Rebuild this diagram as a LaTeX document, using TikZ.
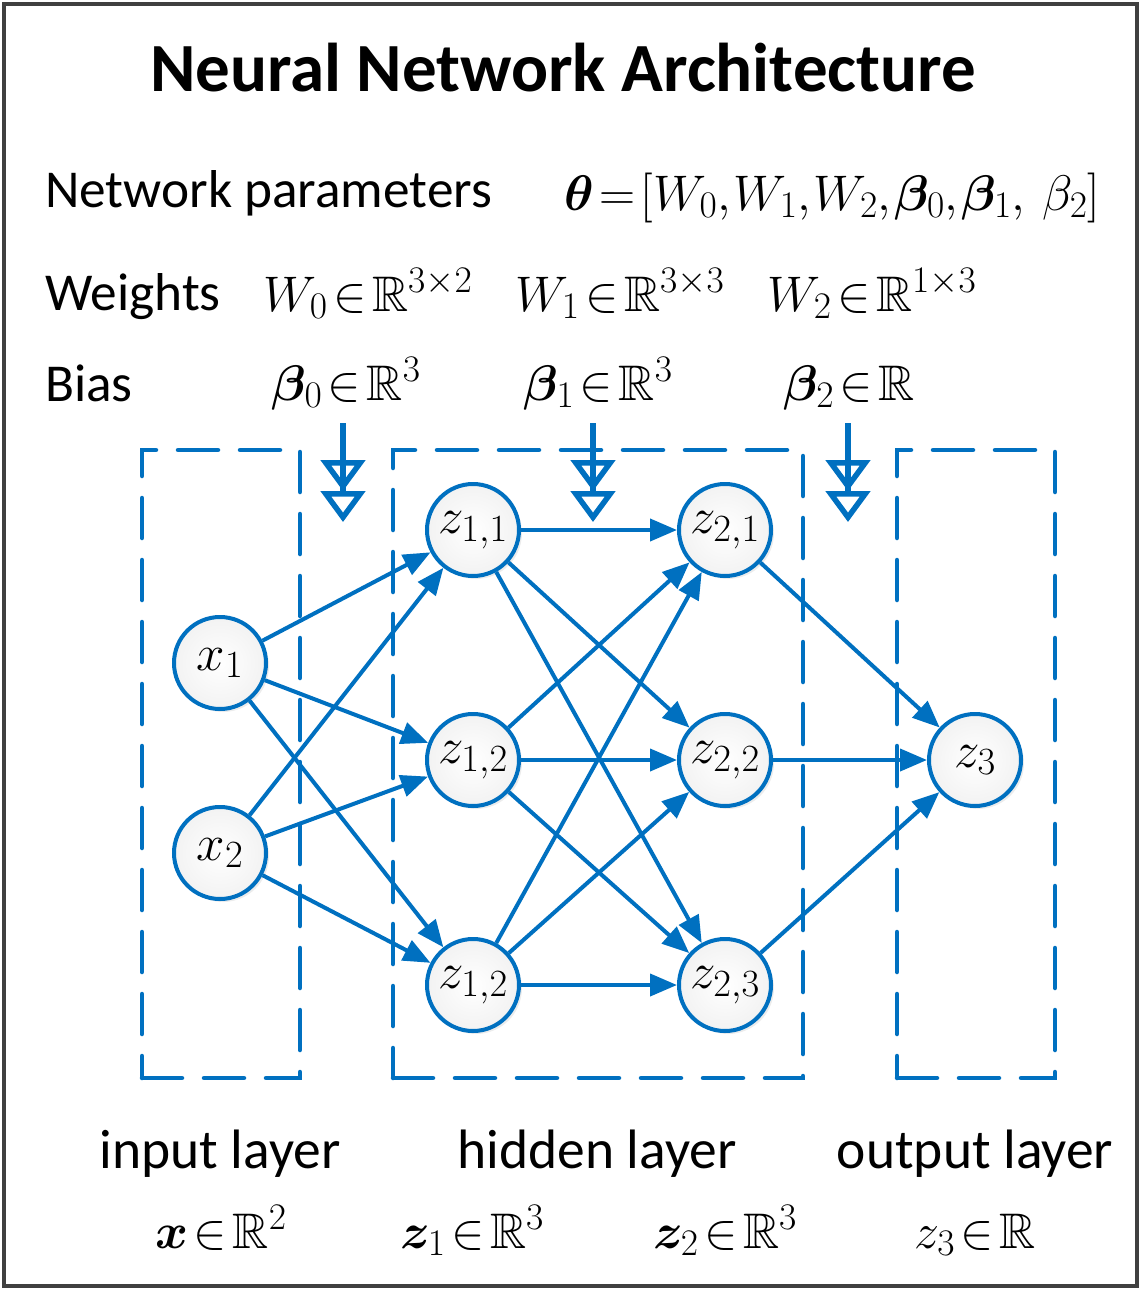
\RequirePackage{fix-cm}
\documentclass[tikz,border=0pt]{standalone}
\usepackage{fontspec}
\setmainfont{Carlito}
\usepackage{amsmath,amssymb,bm}
\DeclareMathSizes{50}{50}{37.5}{30}
\DeclareMathSizes{51}{51}{38.5}{30}
\usetikzlibrary{arrows.meta,shadows}
\definecolor{nnblue}{RGB}{0,112,192}
\definecolor{framegray}{RGB}{64,64,64}
\begin{document}
\begin{tikzpicture}[x=1pt,y=-1pt,
  neuron/.style={circle,draw=nnblue,line width=4pt,minimum size=92pt,inner sep=0pt,
    inner color=white,outer color=gray!10,
    drop shadow={shadow xshift=3pt,shadow yshift=-3pt,opacity=0.15},
    font=\fontsize{51}{54}\selectfont},
  conn/.style={draw=nnblue,line width=4pt,-{Triangle[length=27pt,width=22pt]}},
  layerbox/.style={draw=nnblue,line width=4.5pt,dash pattern=on 40pt off 22pt,line cap=round,
    inner sep=0pt,outer sep=0pt},
  biasarrow/.style={draw=nnblue,line width=5.5pt,
    -{Triangle[open,length=31pt,width=44pt]Triangle[open,length=31pt,width=44pt]}},
  lbl/.style={anchor=base west,inner sep=0pt,font=\fontsize{53.3}{60}\selectfont},
  mlbl/.style={anchor=base,inner sep=0pt,font=\fontsize{50}{56}\selectfont},
  layerlbl/.style={anchor=base,inner sep=0pt,font=\fontsize{55.5}{60}\selectfont},
]
\useasboundingbox (0,0) rectangle (1144,1290);
\node[draw=framegray,line width=4.5pt,minimum width=1133pt,minimum height=1282pt,inner sep=0pt] (frame) at (570.5,645) {};

\node[anchor=base,inner sep=0pt,font=\fontsize{69}{75}\selectfont\bfseries] (title) at (563,92) {Neural Network Architecture};

\node[lbl] (params) at (45,207) {Network parameters};
\node[lbl] (weights) at (45,310) {Weights};
\node[lbl] (bias) at (45,401) {Bias};

\node[mlbl] (theta) at (832,210) {$\bm{\theta}\mkern2mu{=}\mkern2mu[W_0{,}\mkern1mu W_1{,}\mkern1mu W_2{,}\mkern1mu\bm{\beta}_0{,}\mkern1mu\bm{\beta}_1{,}\mkern6mu\beta_2]$};
\node[mlbl] (w0) at (368,311) {$W_0\mkern2mu{\in}\mkern2mu\mathbb{R}^{3\times 2}$};
\node[mlbl] (w1) at (620,311) {$W_1\mkern2mu{\in}\mkern2mu\mathbb{R}^{3\times 3}$};
\node[mlbl] (w2) at (872,311) {$W_2\mkern2mu{\in}\mkern2mu\mathbb{R}^{1\times 3}$};
\node[mlbl] (b0) at (346,400) {$\bm{\beta}_0\mkern2mu{\in}\mkern2mu\mathbb{R}^{3}$};
\node[mlbl] (b1) at (598,400) {$\bm{\beta}_1\mkern2mu{\in}\mkern2mu\mathbb{R}^{3}$};
\node[mlbl] (b2) at (849,400) {$\bm{\beta}_2\mkern2mu{\in}\mkern2mu\mathbb{R}$};

% layer boxes
\node[layerbox,minimum width=158pt,minimum height=628pt] (inbox) at (221,764) {};
\node[layerbox,minimum width=410pt,minimum height=628pt] (hidbox) at (598,764) {};
\node[layerbox,minimum width=158pt,minimum height=628pt] (outbox) at (976,764) {};

% bias arrows
\coordinate (b0s) at (343,423); \coordinate (b0e) at (343,522);
\coordinate (b1s) at (593,423); \coordinate (b1e) at (593,522);
\coordinate (b2s) at (848,423); \coordinate (b2e) at (848,522);
\draw[biasarrow] (b0s) -- (b0e);
\draw[biasarrow] (b1s) -- (b1e);
\draw[biasarrow] (b2s) -- (b2e);

% neurons
\node[neuron] (x1) at (220,663) {$x_1$};
\node[neuron] (x2) at (220,853) {$x_2$};
\node[neuron] (z11) at (473,530) {$z_{1,1}$};
\node[neuron] (z12) at (473,760) {$z_{1,2}$};
\node[neuron] (z13) at (473,985) {$z_{1,2}$};
\node[neuron] (z21) at (725,530) {$z_{2,1}$};
\node[neuron] (z22) at (725,760) {$z_{2,2}$};
\node[neuron] (z23) at (725,985) {$z_{2,3}$};
\node[neuron] (z3) at (975,760) {$z_3$};

% connections
\foreach \s in {x1,x2}{
  \foreach \t in {z11,z12,z13}{
    \draw[conn] (\s) -- (\t);
  }
}
\foreach \s in {z11,z12,z13}{
  \foreach \t in {z21,z22,z23}{
    \draw[conn] (\s) -- (\t);
  }
}
\foreach \s in {z21,z22,z23}{
  \draw[conn] (\s) -- (z3);
}

% bottom labels
\node[layerlbl] (inlbl) at (220,1168) {input layer};
\node[layerlbl] (hidlbl) at (597,1168) {hidden layer};
\node[layerlbl] (outlbl) at (975,1168) {output layer};
\node[mlbl] (xdim) at (221,1248) {$\bm{x}\mkern2mu{\in}\mkern2mu\mathbb{R}^{2}$};
\node[mlbl] (z1dim) at (472,1248) {$\bm{z}_1\mkern2mu{\in}\mkern2mu\mathbb{R}^{3}$};
\node[mlbl] (z2dim) at (725,1248) {$\bm{z}_2\mkern2mu{\in}\mkern2mu\mathbb{R}^{3}$};
\node[mlbl] (z3dim) at (975,1248) {$z_3\mkern2mu{\in}\mkern2mu\mathbb{R}$};
\end{tikzpicture}
\end{document}
